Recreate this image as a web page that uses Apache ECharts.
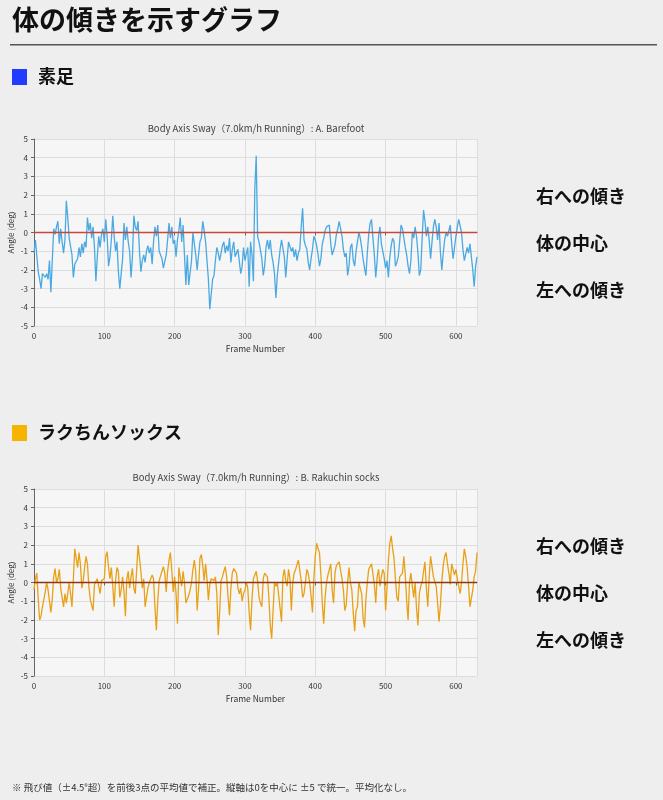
<!DOCTYPE html>
<html lang="ja">
<head>
<meta charset="utf-8">
<title>体の傾きを示すグラフ</title>
<script src="https://cdn.jsdelivr.net/npm/echarts@6/dist/echarts.min.js"></script>
<style>
  html, body { margin: 0; padding: 0; background: #eeeeee; }
  #chart { width: 663px; height: 800px; }
</style>
</head>
<body>
<div id="chart"></div>
<script>
// フレーム間隔（2フレームごとに読み取り）
const FRAME_STEP = 2;
const xTicks = [0, 100, 200, 300, 400, 500, 600];
const sideLabels = ['右への傾き', '体の中心', '左への傾き'];

// A. 素足 (frame 0..630, 2フレームごと, 1行 = 20フレーム)
const barefoot = [
  -1.1, -0.4, -0.5, -2.1, -2.5, -3.0, -2.2, -2.3, -2.4, -2.2,
  -2.5, -1.5, -3.2, -1.5, 0.2, -0.1, 0.3, 0.6, -0.6, 0.2,
  -0.5, -1.1, -0.4, 1.7, 0.8, -0.3, -0.4, -1.2, -2.4, -1.7,
  -1.8, -1.4, -0.8, -1.3, -0.6, -1.1, -0.5, -0.8, 0.8, 0.1,
  0.5, -0.3, 0.3, -0.8, -2.6, -1.3, -0.2, -0.8, -0.1, 0.2,
  -0.5, 0.7, -0.2, -1.8, -1.3, -0.4, 0.9, -0.2, -1.0, -0.5,
  -2.1, -3.0, -3.1, -1.4, 0.5, -0.4, 0.3, -0.5, -1.0, -2.4,
  -1.3, 0.9, 0.3, 0.1, 0.6, -1.0, -2.1, -1.5, -1.2, -1.6,
  -1.0, -0.7, -1.1, -0.8, -1.7, -0.5, 0.3, -0.2, 0.4, -1.0,
  -0.9, -1.4, -1.9, -1.8, -1.2, -0.4, 0.5, -0.3, 0.3, -0.6,
  -0.4, -1.3, -0.4, 0.1, 0.8, -0.5, 0.4, -1.2, -2.8, -1.2,
  -2.8, -2.9, -1.5, 0.0, -0.6, -1.2, -2.0, -1.2, -0.5, -0.3,
  0.6, 0.1, -0.5, -1.5, -2.5, -4.1, -4.2, -2.5, -2.3, -1.5,
  -0.8, -1.1, -1.5, -1.1, -0.7, -0.5, -1.1, -0.7, -1.0, -0.3,
  -1.6, -0.9, -0.5, -1.3, -1.4, -0.9, -1.0, -2.2, -1.8, -0.8,
  -1.5, -1.6, -0.8, -2.9, -0.5, -1.2, -2.6, 2.3, 4.1, -0.2,
  -0.5, -0.6, -1.4, -2.3, -1.8, -0.8, -0.4, -0.9, -0.4, -1.2,
  -1.6, -2.2, -3.5, -2.3, -1.6, -0.9, -0.4, -0.3, -1.3, -2.4,
  -1.4, -0.5, -0.6, -1.0, -0.8, -1.3, -0.9, -1.5, -1.1, -0.9,
  0.3, 1.3, -0.4, -0.7, -0.9, -1.6, -2.0, -1.4, -0.9, -0.2,
  -0.4, -0.7, -1.2, -1.8, -1.4, -0.6, -0.3, 0.1, 0.3, 0.2,
  0.4, -0.6, -1.2, -1.3, -0.7, -0.1, 0.2, 0.6, 0.5, -0.2,
  -0.9, -1.3, -1.1, -2.3, -1.8, -0.8, -0.6, -1.5, -1.8, -1.0,
  -0.5, 0.0, -0.3, -0.8, -1.4, -1.9, -2.3, -1.1, -0.1, 0.5,
  0.7, -0.3, -1.2, -2.4, -1.5, -0.2, 0.3, -0.6, -0.6, -1.4,
  -1.9, -1.5, -2.4, -1.3, -0.7, -0.3, -0.5, -1.8, -1.6, -1.3,
  -0.5, 0.4, 0.2, -0.3, -0.8, -1.2, -1.8, -2.2, -1.5, 0.0,
  -0.3, 0.3, -0.2, -1.1, -2.3, -2.0, -0.3, 1.2, 0.6, -0.2,
  0.3, -0.4, -1.4, -0.5, 0.3, 0.7, 0.3, -0.4, 0.5, -1.1,
  -2.0, -1.1, -0.4, 0.0, -0.2, 0.1, 0.4, -0.6, -1.4, -0.8,
  -0.2, 0.3, 0.7, 0.6, 0.0, -0.9, -1.5, -1.6, -0.8, -1.1,
  -0.6, -1.3, -2.0, -2.9, -1.8, -1.3
];

// B. ラクちんソックス
const socks = [
  -0.4, 0.2, 0.5, -0.9, -2.0, -1.8, -1.3, -0.9, -0.5, 0.0,
  -0.4, -1.0, -1.6, -0.9, 0.3, 0.75, 0.0, 0.2, 0.7, -0.3,
  -0.8, -1.3, -0.6, -1.1, -0.6, 0.0, -0.6, -1.3, 0.2, 1.8,
  1.7, 0.8, 1.6, 1.0, -0.3, 0.1, 0.8, 1.4, 1.0, -0.2,
  -0.9, -0.9, -1.5, -0.1, 0.0, 0.2, -0.2, -0.6, 0.1, 0.0,
  0.2, 1.4, 1.65, 0.8, 0.2, 0.8, -0.2, -1.3, 0.1, 0.8,
  0.6, -0.8, -0.4, 0.3, -0.5, -1.8, 0.2, 0.6, -0.3, 0.3,
  0.75, -0.3, -0.6, 0.7, 2.0, 1.9, 0.6, -0.3, 0.2, -1.3,
  -0.8, -0.3, 0.0, 0.2, 0.4, 0.2, -1.3, -2.55, -1.0, 0.1,
  0.0, 0.6, 0.85, 0.5, -0.5, 0.6, 1.2, 1.6, 0.6, -0.5,
  0.3, -0.6, -2.2, 0.8, 0.3, -0.2, 0.6, 0.0, -1.1, -0.9,
  -0.7, -0.4, 0.0, 0.7, 1.2, 0.6, -1.5, -0.4, 1.3, 1.5,
  0.9, 0.1, 1.0, 0.2, -0.95, -0.1, 0.2, 0.3, 0.1, 0.3,
  -0.6, -2.8, -1.6, 0.1, 0.3, 0.6, 0.85, 0.3, -0.8, -1.75,
  -0.3, 0.5, 0.75, 0.8, 0.5, -0.3, -0.6, -0.3, -1.0, -0.6,
  -0.4, 0.0, -0.3, -1.6, -2.55, -0.9, 0.2, 0.1, 0.6, 0.1,
  -0.8, -1.1, -1.3, 0.2, 0.5, 0.6, 0.3, -0.8, -2.3, -3.0,
  -1.5, 0.0, -0.2, 0.0, 0.0, -1.4, -2.1, 0.3, 0.7, 0.1,
  -0.2, 0.7, 0.2, -1.5, 0.0, 0.5, 0.7, 0.8, 1.2, 1.3,
  0.1, -0.8, -0.6, 0.0, 0.7, 0.5, 0.0, -0.7, -1.6, 0.2,
  1.4, 2.1, 1.8, 1.6, 0.4, -1.1, -2.2, -0.8, 0.0, 0.4,
  0.7, 1.0, -0.4, -1.1, 0.5, 0.9, 1.0, 1.1, 1.2, 0.2,
  -0.4, -1.5, -1.2, 0.0, 0.8, 0.0, -0.4, -1.6, -2.6, -1.5,
  -1.3, 0.0, 0.0, -0.6, -1.9, -2.4, -0.9, 0.0, 0.7, 0.8,
  1.0, 0.9, -0.1, -1.1, 0.3, 0.7, -0.2, 0.3, 0.7, 0.5,
  -1.5, -0.3, 1.2, 2.1, 2.5, 1.8, 1.3, 0.2, -0.8, -1.0,
  0.3, 0.4, 0.5, 1.4, 0.4, -1.0, -2.0, 0.0, 0.5, -0.2,
  -0.8, 0.0, -1.4, -2.3, -0.6, -0.2, 0.0, 0.6, 1.1, -0.3,
  -1.3, 0.3, 1.4, 1.3, 0.3, 0.3, -0.2, -1.1, -2.1, -1.2,
  0.1, 0.9, 1.4, 1.6, 1.0, 0.5, -0.1, 1.0, 1.0, 0.4,
  0.7, 0.2, -0.2, -0.6, 0.0, 1.0, 1.8, 1.4, 0.8, -0.2,
  -1.3, -1.3, -0.4, 0.3, 0.6, 1.6
];

const FONT = '"Noto Sans CJK JP", "Noto Sans", sans-serif';

const chart = echarts.init(document.getElementById('chart'), null, { renderer: 'canvas' });

// 各グラフ共通の軸設定
function makeX(gridIndex) {
  return {
    type: 'value', gridIndex, min: 0, max: 630, interval: 100,
    name: 'Frame Number', nameLocation: 'middle', nameGap: 19,
    nameTextStyle: { fontSize: 8.5, color: '#333', fontFamily: FONT },
    axisLine: { show: true, lineStyle: { color: '#666' } },
    axisTick: { show: true, length: 3, lineStyle: { color: '#666' } },
    axisLabel: {
      fontSize: 8, color: '#333', margin: 6, fontFamily: FONT,
      showMaxLabel: false,
      formatter: (v) => xTicks.includes(v) ? String(v) : ''
    },
    splitLine: { show: true, lineStyle: { color: '#dddddd', width: 1 } }
  };
}
function makeY(gridIndex) {
  return {
    type: 'value', gridIndex, min: -5, max: 5, interval: 1,
    name: 'Angle (deg)', nameLocation: 'middle', nameGap: 19, nameRotate: 90,
    nameMoveOverlap: false,
    nameTextStyle: { fontSize: 8, color: '#333', fontFamily: FONT },
    axisLine: { show: true, lineStyle: { color: '#666' } },
    axisTick: { show: true, length: 3, lineStyle: { color: '#666' } },
    axisLabel: { fontSize: 8, color: '#333', margin: 6, fontFamily: FONT },
    splitLine: { show: true, lineStyle: { color: '#dddddd', width: 1 } }
  };
}
function makeSeries(values, idx, color, zeroColor) {
  return {
    type: 'line', xAxisIndex: idx, yAxisIndex: idx,
    data: values.map((v, i) => [i * FRAME_STEP, v]),
    showSymbol: false, symbol: 'none',
    lineStyle: { color, width: 1.3 },
    itemStyle: { color },
    z: 3,
    markLine: {
      silent: true, symbol: 'none', label: { show: false },
      lineStyle: { color: zeroColor, width: 1.4, type: 'solid' },
      data: [{ yAxis: 0 }]
    }
  };
}

function sideText(top, i) {
  return {
    type: 'text', left: 536, top: top + i * 47,
    style: { text: sideLabels[i], font: 'bold 18px ' + FONT, fill: '#111' }
  };
}

const graphics = [
  { type: 'text', left: 12, top: 6, style: { text: '体の傾きを示すグラフ', font: 'bold 27px ' + FONT, fill: '#111' } },
  { type: 'rect', shape: { x: 10, y: 44, width: 647, height: 1.5 }, style: { fill: '#555' } },
  { type: 'rect', shape: { x: 12, y: 69, width: 15, height: 16 }, style: { fill: '#1f3cff' } },
  { type: 'text', left: 38, top: 67, style: { text: '素足', font: 'bold 18px ' + FONT, fill: '#111' } },
  { type: 'rect', shape: { x: 12, y: 425, width: 15, height: 16 }, style: { fill: '#f4b400' } },
  { type: 'text', left: 38, top: 423, style: { text: 'ラクちんソックス', font: 'bold 18px ' + FONT, fill: '#111' } },
  { type: 'text', x: 256, y: 124, style: { text: 'Body Axis Sway（7.0km/h Running）: A. Barefoot', font: '9.5px ' + FONT, fill: '#444', textAlign: 'center' } },
  { type: 'text', x: 256, y: 473, style: { text: 'Body Axis Sway（7.0km/h Running）: B. Rakuchin socks', font: '9.5px ' + FONT, fill: '#444', textAlign: 'center' } },
  { type: 'text', left: 12, top: 783, style: { text: '※ 飛び値（±4.5°超）を前後3点の平均値で補正。縦軸は0を中心に ±5 で統一。平均化なし。', font: '9.5px ' + FONT, fill: '#333' } }
];
[0, 1, 2].forEach(i => graphics.push(sideText(187, i)));
[0, 1, 2].forEach(i => graphics.push(sideText(537, i)));

const gridBase = { left: 34, width: 443, height: 187, show: true, backgroundColor: '#f6f6f6', borderWidth: 0, outerBoundsMode: 'none', containLabel: false };

const option = {
  animation: false,
  backgroundColor: '#eeeeee',
  textStyle: { fontFamily: FONT },
  grid: [
    Object.assign({ top: 139 }, gridBase),
    Object.assign({ top: 489 }, gridBase)
  ],
  xAxis: [makeX(0), makeX(1)],
  yAxis: [makeY(0), makeY(1)],
  series: [
    makeSeries(barefoot, 0, '#4aa9e2', '#c9463a'),
    makeSeries(socks, 1, '#e8a117', '#8e3512')
  ],
  graphic: graphics
};

chart.setOption(option);
</script>
</body>
</html>
